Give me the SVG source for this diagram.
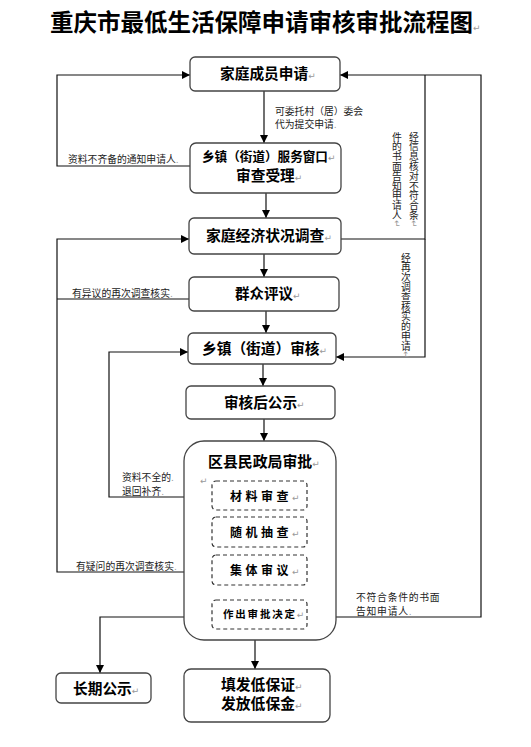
<svg xmlns="http://www.w3.org/2000/svg" width="531" height="747" viewBox="0 0 531 747">
<style>
.box{fill:#fff;stroke:#444;stroke-width:1.3}
.dbox{fill:#fff;stroke:#333;stroke-width:1.2;stroke-dasharray:4 3}
.big{fill:#fff;stroke:#444;stroke-width:1.3}
.t{font-family:"Noto Sans CJK SC","DejaVu Sans",sans-serif;font-weight:bold;fill:#000}
.s{font-family:"Noto Sans CJK SC","DejaVu Sans",sans-serif;font-weight:normal;fill:#222;font-size:9.8px}
.m{fill:#999;font-weight:normal;font-size:9px;font-family:"DejaVu Sans",sans-serif}
.c{fill:none;stroke:#111;stroke-width:1.2}
.v{writing-mode:vertical-rl}
</style>
<defs>
<marker id="ar" viewBox="0 0 10 10" refX="10" refY="5" markerWidth="8" markerHeight="8" markerUnits="userSpaceOnUse" orient="auto">
<path d="M0,0 L10,5 L0,10 Z" fill="#000"/>
</marker>
</defs>
<rect width="531" height="747" fill="#fff"/>
<text class="t" x="50" y="31" font-size="23.5">重庆市最低生活保障申请审核审批流程图<tspan class="m">↵</tspan></text>

<g id="connectors">
<path class="c" d="M264,91 V143" marker-end="url(#ar)"/>
<path class="c" d="M266,193 V218" marker-end="url(#ar)"/>
<path class="c" d="M264,254 V277" marker-end="url(#ar)"/>
<path class="c" d="M266,311 V333" marker-end="url(#ar)"/>
<path class="c" d="M263,364 V386" marker-end="url(#ar)"/>
<path class="c" d="M264,419 V441" marker-end="url(#ar)"/>
<path class="c" d="M255,640 V669" marker-end="url(#ar)"/>
<path class="c" d="M212,617 H100 V673" marker-end="url(#ar)"/>
<path class="c" d="M307,617 H481 V75 H340" marker-end="url(#ar)"/>
<path class="c" d="M341,239 H425 V75"/>
<path class="c" d="M425,239 V357 H336" marker-end="url(#ar)"/>
<path class="c" d="M190,166 H57 V75 H190" marker-end="url(#ar)"/>
<path class="c" d="M189,299 H57"/>
<path class="c" d="M212,572 H57 V239 H189" marker-end="url(#ar)"/>
<path class="c" d="M212,497 H109 V352 H188" marker-end="url(#ar)"/>
</g>

<g id="labels">
<text class="s" x="275" y="114.5" font-size="9.3">可委托村（居）委会</text>
<text class="s" x="275" y="127.5" font-size="9.3">代为提交申请<tspan class="m">.</tspan></text>
<text class="s" x="68" y="162.5">资料不齐备的通知申请人<tspan class="m">.</tspan></text>
<text class="s v" x="414" y="132">经信息核对不符合条<tspan class="m">↵</tspan></text>
<text class="s v" x="397" y="132">件的书面告知申请人<tspan class="m">↵</tspan></text>
<text class="s v" x="406" y="253">经再次调查核实的申请<tspan class="m">↵</tspan></text>
<text class="s" x="72" y="296.5">有异议的再次调查核实<tspan class="m">.</tspan></text>
<text class="s" x="122" y="480.5">资料不全的<tspan class="m">.</tspan></text>
<text class="s" x="122" y="495">退回补齐<tspan class="m">.</tspan></text>
<text class="s" x="76" y="569.5">有疑问的再次调查核实<tspan class="m">.</tspan></text>
<text class="s" x="356" y="600.5" letter-spacing="0.75">不符合条件的书面</text>
<text class="s" x="356" y="614.5" letter-spacing="0.75">告知申请人<tspan class="m">.</tspan></text>
</g>

<g id="n1">
<rect class="box" x="190" y="57" width="150" height="34" rx="5"/>
<text class="t" x="220" y="79" font-size="14.7">家庭成员申请<tspan class="m">↵</tspan></text>
</g>
<g id="n2">
<rect class="box" x="190" y="143" width="151" height="50" rx="6"/>
<text class="t" x="202" y="160.5" font-size="12.6">乡镇（街道）服务窗口<tspan class="m">↵</tspan></text>
<text class="t" x="236" y="181" font-size="14.7">审查受理<tspan class="m">↵</tspan></text>
</g>
<g id="n3">
<rect class="box" x="189" y="218" width="152" height="36" rx="5"/>
<text class="t" x="206" y="240.5" font-size="14.8">家庭经济状况调查<tspan class="m">↵</tspan></text>
</g>
<g id="n4">
<rect class="box" x="189" y="277" width="150" height="34" rx="5"/>
<text class="t" x="235" y="298.5" font-size="14.5">群众评议<tspan class="m">↵</tspan></text>
</g>
<g id="n5">
<rect class="box" x="188" y="333" width="148" height="31" rx="5"/>
<text class="t" x="202" y="354" font-size="14.7">乡镇（街道）审核<tspan class="m">↵</tspan></text>
</g>
<g id="n6">
<rect class="box" x="186" y="386" width="149" height="33" rx="5"/>
<text class="t" x="224" y="407.5" font-size="14.6">审核后公示<tspan class="m">↵</tspan></text>
</g>
<g id="n7">
<rect class="big" x="184" y="441" width="152" height="199" rx="20"/>
<text class="t" x="208" y="466.5" font-size="14.9">区县民政局审批<tspan class="m">↵</tspan></text>
<text class="m" x="200" y="484">↵</text>
</g>
<g id="n7a">
<rect class="dbox" x="212" y="481" width="95" height="29" rx="4"/>
<text class="t" x="230" y="500.5" font-size="12" letter-spacing="3.5">材料审查<tspan class="m" letter-spacing="0">↵</tspan></text>
</g>
<g id="n7b">
<rect class="dbox" x="212" y="517" width="95" height="30" rx="4"/>
<text class="t" x="230" y="536.5" font-size="12" letter-spacing="3.5">随机抽查<tspan class="m" letter-spacing="0">↵</tspan></text>
</g>
<g id="n7c">
<rect class="dbox" x="212" y="555" width="95" height="30" rx="4"/>
<text class="t" x="230" y="574.5" font-size="12" letter-spacing="3.5">集体审议<tspan class="m" letter-spacing="0">↵</tspan></text>
</g>
<g id="n7d">
<rect class="dbox" x="212" y="600" width="95" height="29" rx="4"/>
<text class="t" x="223" y="618" font-size="10.5" letter-spacing="1.8">作出审批决定<tspan class="m" letter-spacing="0">↵</tspan></text>
</g>
<g id="n8">
<rect class="box" x="56" y="673" width="95" height="30" rx="5"/>
<text class="t" x="73" y="694" font-size="14.7">长期公示<tspan class="m">↵</tspan></text>
</g>
<g id="n9">
<rect class="box" x="184" y="669" width="146" height="53" rx="7" stroke-width="1.6"/>
<text class="t" x="221" y="690" font-size="14.8">填发低保证<tspan class="m">↵</tspan></text>
<text class="t" x="221" y="709" font-size="14.8">发放低保金<tspan class="m">↵</tspan></text>
</g>
</svg>
